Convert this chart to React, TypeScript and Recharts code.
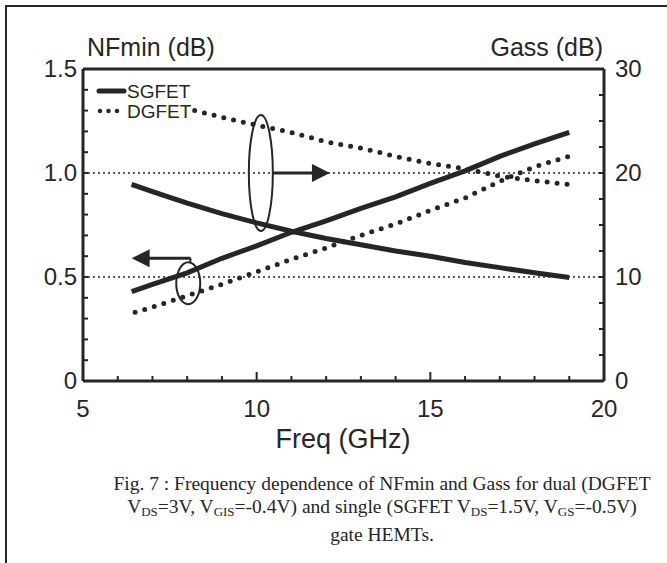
import React from 'react';
import { LineChart, Line, XAxis, YAxis, ReferenceLine, ReferenceDot } from 'recharts';

const sgFreq = [6.4, 7, 8, 9, 10, 11, 12, 13, 14, 15, 16, 17, 18, 19];
const sgNfmin = [0.43, 0.465, 0.52, 0.59, 0.65, 0.715, 0.77, 0.83, 0.885, 0.95, 1.01, 1.08, 1.14, 1.195];
const sgGass = [18.9, 18.2, 17.1, 16.1, 15.2, 14.4, 13.7, 13.1, 12.5, 12.0, 11.4, 10.9, 10.4, 9.95];

const dgFreq = [6.5, 7, 8, 9, 10, 11, 12, 13, 14, 15, 16, 17, 18, 19];
const dgNfmin = [0.33, 0.355, 0.41, 0.465, 0.525, 0.585, 0.64, 0.7, 0.755, 0.82, 0.88, 0.96, 1.03, 1.08];
const dgGass = [26.6, 26.5, 26.2, 25.35, 24.6, 23.9, 23.0, 22.4, 21.6, 20.9, 20.4, 19.7, 19.25, 18.9];

const freqTicks = [5, 6, 7, 8, 9, 10, 11, 12, 13, 14, 15, 16, 17, 18, 19, 20];
const freqMajor = [5, 10, 15, 20];
const nfTicks = [0, 0.1, 0.2, 0.3, 0.4, 0.5, 0.6, 0.7, 0.8, 0.9, 1.0, 1.1, 1.2, 1.3, 1.4, 1.5];
const nfMajor = [0, 0.5, 1.0, 1.5];
const nfMajorLabels = ['0', '0.5', '1.0', '1.5'];
const gassTicks = [0, 2.5, 5, 7.5, 10, 12.5, 15, 17.5, 20, 22.5, 25, 27.5, 30];
const gassMajor = [0, 10, 20, 30];

const seriesNames = ['SGFET', 'DGFET'];

const INK = '#262626';
const SANS = '"Liberation Sans", Arial, Helvetica, sans-serif';

const sgNfData = sgFreq.map((f, i) => ({ f, v: sgNfmin[i] }));
const sgGassData = sgFreq.map((f, i) => ({ f, v: sgGass[i] }));
const dgNfData = dgFreq.map((f, i) => ({ f, v: dgNfmin[i] }));
const dgGassData = dgFreq.map((f, i) => ({ f, v: dgGass[i] }));

const near = (a: number, b: number) => Math.abs(a - b) < 1e-6;

const FreqTick = ({ x, y, payload }: any) => {
  const major = freqMajor.some((m) => near(m, payload.value));
  return (
    <g>
      <line x1={x} y1={y} x2={x} y2={y - (major ? 9 : 5)} stroke={INK} strokeWidth={2} />
      {major && (
        <text x={x} y={y + 36} textAnchor="middle" fontSize={24} fontFamily={SANS} fill={INK}>
          {payload.value}
        </text>
      )}
    </g>
  );
};

const NfTick = ({ x, y, payload }: any) => {
  const idx = nfMajor.findIndex((m) => near(m, payload.value));
  return (
    <g>
      <line x1={x} y1={y} x2={x + 5} y2={y} stroke={INK} strokeWidth={2} />
      {idx >= 0 && (
        <text x={x - 6} y={y + 8} textAnchor="end" fontSize={24} fontFamily={SANS} fill={INK}>
          {nfMajorLabels[idx]}
        </text>
      )}
    </g>
  );
};

const GassTick = ({ x, y, payload }: any) => {
  const major = gassMajor.some((m) => near(m, payload.value));
  return (
    <g>
      <line x1={x} y1={y} x2={x - 5} y2={y} stroke={INK} strokeWidth={2} />
      {major && (
        <text x={x + 11} y={y + 8} textAnchor="start" fontSize={24} fontFamily={SANS} fill={INK}>
          {payload.value}
        </text>
      )}
    </g>
  );
};

const ellipseShape = (rx: number, ry: number) => (p: any) => (
  <ellipse cx={p.cx} cy={p.cy} rx={rx} ry={ry} fill="none" stroke={INK} strokeWidth={2} />
);

const arrowHead = (dir: 1 | -1) => (p: any) => (
  <polygon
    points={`${p.cx},${p.cy} ${p.cx - dir * 18},${p.cy - 9} ${p.cx - dir * 18},${p.cy + 9}`}
    fill={INK}
  />
);

const subStyle = { fontSize: 13, verticalAlign: '-3px' };

export default function App() {
  return (
    <div
      style={{
        position: 'absolute',
        left: 0,
        top: 0,
        width: 667,
        height: 563,
        background: '#fff',
        overflow: 'hidden',
      }}
    >
      {/* scan frame */}
      <div style={{ position: 'absolute', left: 5, top: 5, width: 662, height: 2, background: INK }} />
      <div style={{ position: 'absolute', left: 5, top: 5, width: 2, height: 558, background: INK }} />

      <LineChart
        width={667}
        height={563}
        margin={{ top: 69, right: 13, bottom: 152, left: 23 }}
        style={{ position: 'absolute', left: 0, top: 0 }}
      >
        <XAxis
          dataKey="f"
          type="number"
          domain={[5, 20]}
          ticks={freqTicks}
          interval={0}
          height={30}
          tickSize={0}
          tickMargin={0}
          tickLine={false}
          axisLine={{ stroke: INK, strokeWidth: 3 }}
          tick={<FreqTick />}
        />
        <YAxis
          yAxisId="nf"
          orientation="left"
          type="number"
          domain={[0, 1.5]}
          ticks={nfTicks}
          interval={0}
          width={60}
          tickSize={0}
          tickMargin={0}
          tickLine={false}
          axisLine={{ stroke: INK, strokeWidth: 3 }}
          tick={<NfTick />}
        />
        <YAxis
          yAxisId="gass"
          orientation="right"
          type="number"
          domain={[0, 30]}
          ticks={gassTicks}
          interval={0}
          width={50}
          tickSize={0}
          tickMargin={0}
          tickLine={false}
          axisLine={{ stroke: INK, strokeWidth: 3 }}
          tick={<GassTick />}
        />

        <ReferenceLine yAxisId="nf" y={1.5} stroke={INK} strokeWidth={3} />
        <ReferenceLine yAxisId="nf" y={1.0} stroke={INK} strokeWidth={1.5} strokeDasharray="2 3" />
        <ReferenceLine yAxisId="nf" y={0.5} stroke={INK} strokeWidth={1.5} strokeDasharray="2 3" />

        <Line
          data={sgNfData}
          yAxisId="nf"
          dataKey="v"
          stroke={INK}
          strokeWidth={5}
          dot={false}
          isAnimationActive={false}
        />
        <Line
          data={sgGassData}
          yAxisId="gass"
          dataKey="v"
          stroke={INK}
          strokeWidth={5}
          dot={false}
          isAnimationActive={false}
        />
        <Line
          data={dgNfData}
          yAxisId="nf"
          dataKey="v"
          stroke={INK}
          strokeWidth={5}
          strokeDasharray="0 10"
          strokeLinecap="round"
          dot={false}
          isAnimationActive={false}
        />
        <Line
          data={dgGassData}
          yAxisId="gass"
          dataKey="v"
          stroke={INK}
          strokeWidth={5}
          strokeDasharray="0 10"
          strokeLinecap="round"
          dot={false}
          isAnimationActive={false}
        />

        {/* Gass group: ellipse + arrow to the right axis */}
        <ReferenceDot yAxisId="nf" x={10.12} y={1.0} r={0} shape={ellipseShape(12, 58)} />
        <ReferenceLine
          yAxisId="nf"
          segment={[{ x: 10.47, y: 1.0 }, { x: 11.7, y: 1.0 }]}
          stroke={INK}
          strokeWidth={3}
        />
        <ReferenceDot yAxisId="nf" x={12.11} y={1.0} r={0} shape={arrowHead(1)} />

        {/* NFmin group: ellipse + arrow to the left axis */}
        <ReferenceDot yAxisId="nf" x={8.03} y={0.47} r={0} shape={ellipseShape(12, 21)} />
        <ReferenceLine
          yAxisId="nf"
          segment={[{ x: 6.8, y: 0.59 }, { x: 8.1, y: 0.59 }]}
          stroke={INK}
          strokeWidth={3}
        />
        <ReferenceLine
          yAxisId="nf"
          segment={[{ x: 8.1, y: 0.59 }, { x: 8.08, y: 0.565 }]}
          stroke={INK}
          strokeWidth={2}
        />
        <ReferenceDot yAxisId="nf" x={6.4} y={0.59} r={0} shape={arrowHead(-1)} />
      </LineChart>

      {/* axis titles and legend */}
      <svg
        width={667}
        height={563}
        style={{ position: 'absolute', left: 0, top: 0, pointerEvents: 'none' }}
      >
        <text x={87} y={56} fontSize={25} fontFamily={SANS} fill={INK}>
          NFmin (dB)
        </text>
        <text x={603} y={56} textAnchor="end" fontSize={25} fontFamily={SANS} fill={INK}>
          Gass (dB)
        </text>
        <text x={343} y={448} textAnchor="middle" fontSize={27} fontFamily={SANS} fill={INK}>
          Freq (GHz)
        </text>

        <line x1={99} y1={91} x2={124} y2={91} stroke={INK} strokeWidth={5} strokeLinecap="round" />
        <text x={127} y={98} fontSize={19} fontFamily={SANS} fill={INK}>
          {seriesNames[0]}
        </text>
        <line
          x1={100}
          y1={111}
          x2={118}
          y2={111}
          stroke={INK}
          strokeWidth={4.5}
          strokeDasharray="0 8.5"
          strokeLinecap="round"
        />
        <rect x={125} y={100} width={64} height={22} fill="#fff" />
        <text x={127} y={118} fontSize={19} fontFamily={SANS} fill={INK}>
          {seriesNames[1]}
        </text>
      </svg>

      {/* figure caption */}
      <div
        style={{
          position: 'absolute',
          left: 62,
          top: 472,
          width: 640,
          textAlign: 'center',
          fontFamily: '"Liberation Serif", "Times New Roman", serif',
          fontSize: 19.5,
          lineHeight: '23px',
          color: INK,
        }}
      >
        Fig. 7 : Frequency dependence of NFmin and Gass for dual (DGFET
        <br />
        V<sub style={subStyle}>DS</sub>=3V, V<sub style={subStyle}>GIS</sub>=-0.4V) and single (SGFET V
        <sub style={subStyle}>DS</sub>=1.5V, V<sub style={subStyle}>GS</sub>=-0.5V)
        <br />
        gate HEMTs.
      </div>
    </div>
  );
}
